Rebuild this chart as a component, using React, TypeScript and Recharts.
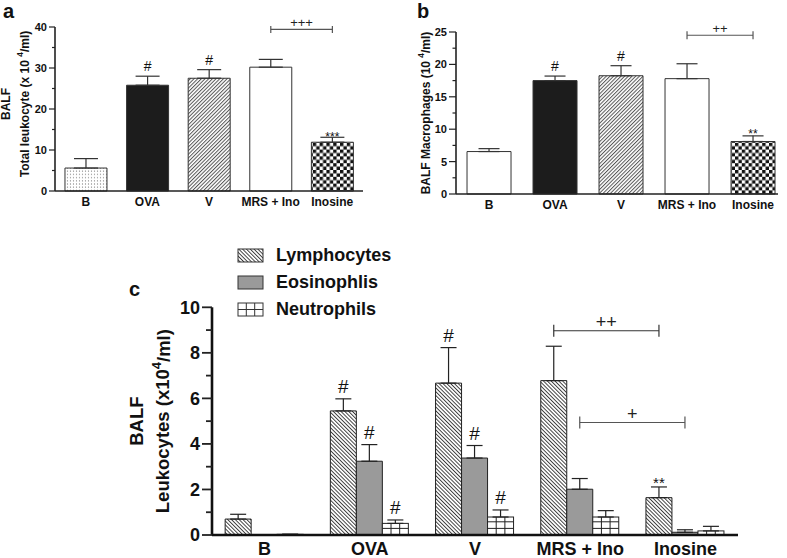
import React from 'react';
import { BarChart, Bar, XAxis, YAxis, ErrorBar, Cell, LabelList, Legend } from 'recharts';

const FONT = '"Liberation Sans", Arial, Helvetica, sans-serif';

// ---------- data ----------
const groups = ['B', 'OVA', 'V', 'MRS + Ino', 'Inosine'];

const totalLeukocyte = [5.6, 25.8, 27.5, 30.2, 11.9];
const totalLeukocyteErr = [2.3, 2.2, 2.1, 1.9, 1.2];
const totalLeukocyteMarks = ['', '#', '#', '', '***'];

const macrophages = [6.55, 17.5, 18.25, 17.8, 8.1];
const macrophagesErr = [0.45, 0.7, 1.55, 2.3, 0.87];
const macrophagesMarks = ['', '#', '#', '', '**'];

const lymphocytes = [0.7, 5.45, 6.67, 6.78, 1.64];
const lymphocytesErr = [0.21, 0.53, 1.56, 1.51, 0.47];
const lymphocytesMarks = ['', '#', '#', '', '**'];

const eosinophils = [0, 3.24, 3.38, 2.01, 0.12];
const eosinophilsErr = [0, 0.73, 0.55, 0.47, 0.11];
const eosinophilsMarks = ['', '#', '#', '', ''];

const neutrophils = [0.03, 0.51, 0.79, 0.79, 0.18];
const neutrophilsErr = [0, 0.15, 0.31, 0.28, 0.2];
const neutrophilsMarks = ['', '#', '#', '', ''];

const ticksA = [0, 5, 10, 15, 20, 25, 30, 35, 40];
const ticksB = [0, 2.5, 5, 7.5, 10, 12.5, 15, 17.5, 20, 22.5, 25];
const ticksC = [0, 1, 2, 3, 4, 5, 6, 7, 8, 9, 10];

type Bracket = { from: number; to: number; y: number; text: string };
const bracketsA: Bracket[] = [{ from: 3, to: 4, y: 39.4, text: '+++' }];
const bracketsB: Bracket[] = [{ from: 3, to: 4, y: 24.5, text: '++' }];
const bracketsLym: Bracket[] = [{ from: 3, to: 4, y: 8.97, text: '++' }];
const bracketsEos: Bracket[] = [{ from: 3, to: 4, y: 4.94, text: '+' }];

// ---------- tables ----------
const rowsA = groups.map((g, i) => ({ idx: i, group: g, value: totalLeukocyte[i], err: [0, totalLeukocyteErr[i]] }));
const rowsB = groups.map((g, i) => ({ idx: i, group: g, value: macrophages[i], err: [0, macrophagesErr[i]] }));
const rowsC = groups.map((g, i) => ({
  idx: i,
  group: g,
  lym: lymphocytes[i], lymErr: [0, lymphocytesErr[i]],
  eos: eosinophils[i], eosErr: [0, eosinophilsErr[i]],
  neu: neutrophils[i], neuErr: [0, neutrophilsErr[i]],
}));

const fillsA = ['url(#dots)', '#1c1c1c', 'url(#hatchFwd)', '#ffffff', 'url(#checker)'];
const fillsB = ['#ffffff', '#1c1c1c', 'url(#hatchFwd)', '#ffffff', 'url(#checker)'];

// label key: "index|value" so that the label knows its own row
const keyed = (field: string) => (r: any) => `${r.idx}|${r[field]}`;

// ---------- helpers ----------
const registry: Record<string, { cx: number; base: number; ppu: number }> = {};

type MarkOpts = {
  id: string;
  errs: number[];
  marks: string[];
  hashSize: number;
  starSize: number;
  hashGap: number;
  starGap: number;
  brackets: Bracket[];
  bracketSize: number;
  bracketHalf: number;
  bracketColor: string;
};

function makeMarks(o: MarkOpts) {
  return (props: any) => {
    const vb = props.viewBox || props;
    const x = Number(vb.x), y = Number(vb.y), w = Number(vb.width), h = Number(vb.height);
    const [is, vs] = String(props.value).split('|');
    const i = Number(is);
    const v = Number(vs);
    if (!(v > 0) || !(h > 0)) return null;
    const ppu = h / v;
    const cx = x + w / 2;
    const base = y + h;
    registry[`${o.id}-${i}`] = { cx, base, ppu };
    const capY = y - o.errs[i] * ppu;
    const out: React.ReactNode[] = [];
    const mark = o.marks[i];
    if (mark) {
      const star = mark.includes('*');
      out.push(
        <text key="m" x={cx} y={star ? capY - o.starGap + o.starSize * 0.43 : capY - o.hashGap} textAnchor="middle"
          fontFamily={FONT} fontSize={star ? o.starSize : o.hashSize} fill="#111">{mark}</text>
      );
    }
    o.brackets.forEach((b, k) => {
      if (b.to !== i) return;
      const from = registry[`${o.id}-${b.from}`];
      if (!from) return;
      const by = base - b.y * ppu;
      const x1 = from.cx, x2 = cx;
      out.push(
        <g key={`b${k}`} stroke={o.bracketColor} strokeWidth={1.2}>
          <line x1={x1} x2={x2} y1={by} y2={by} />
          <line x1={x1} x2={x1} y1={by - o.bracketHalf} y2={by + o.bracketHalf} />
          <line x1={x2} x2={x2} y1={by - o.bracketHalf} y2={by + o.bracketHalf} />
          <text x={(x1 + x2) / 2} y={by - 2.5} textAnchor="middle" stroke="none" fill="#222"
            fontFamily={FONT} fontSize={o.bracketSize}>{b.text}</text>
        </g>
      );
    });
    return <g>{out}</g>;
  };
}

function makeYTick(major: number, majorLen: number, minorLen: number, fontSize: number, gap: number, sw: number) {
  return (props: any) => {
    const { x, y, payload } = props;
    const v = Number(payload.value);
    const isMajor = Math.abs(v / major - Math.round(v / major)) < 1e-6;
    const len = isMajor ? majorLen : minorLen;
    return (
      <g>
        <line x1={x - len} x2={x} y1={y} y2={y} stroke="#222" strokeWidth={sw} />
        {isMajor && (
          <text x={x - len - gap} y={y} dy="0.36em" textAnchor="end" fontFamily={FONT}
            fontWeight="bold" fontSize={fontSize} fill="#111">{v}</text>
        )}
      </g>
    );
  };
}

type LabelLine = { cx: number; parts: React.ReactNode };
function makeYLabel(lines: LabelLine[], fontSize: number, dyCenter: number) {
  return (props: any) => {
    const vb = props.viewBox || {};
    const cy = Number(vb.y) + Number(vb.height) / 2 + dyCenter;
    return (
      <g>
        {lines.map((l, k) => (
          <text key={k} x={Number(vb.x) + l.cx} y={cy} transform={`rotate(-90, ${Number(vb.x) + l.cx}, ${cy})`}
            textAnchor="middle" dominantBaseline="central" fontFamily={FONT} fontWeight="bold"
            fontSize={fontSize} fill="#111">{l.parts}</text>
        ))}
      </g>
    );
  };
}

const sup = (fs: number, pre: string, post: string) => (
  <>
    {pre}
    <tspan dy={-fs * 0.38} fontSize={fs * 0.7}>4</tspan>
    <tspan dy={fs * 0.38}>{post}</tspan>
  </>
);

function GridBar(props: any) {
  const { x, y, width, height } = props;
  if (!(height > 0)) return null;
  const base = y + height;
  const rowH = 6.6;
  const hl: number[] = [];
  for (let yy = base - rowH; yy > y + 1; yy -= rowH) hl.push(yy);
  return (
    <g>
      <rect x={x} y={y} width={width} height={height} fill="#fff" stroke="#222" strokeWidth={1} />
      {[1, 2].map((k) => (
        <line key={`v${k}`} x1={x + (width * k) / 3} x2={x + (width * k) / 3} y1={y} y2={base} stroke="#222" strokeWidth={1} />
      ))}
      {hl.map((yy, k) => (
        <line key={`h${k}`} x1={x} x2={x + width} y1={yy} y2={yy} stroke="#222" strokeWidth={1} />
      ))}
    </g>
  );
}

const seriesC = [
  { key: 'lym', name: 'Lymphocytes', fill: 'url(#hatchBack)' },
  { key: 'eos', name: 'Eosinophlis', fill: '#9a9a9a' },
  { key: 'neu', name: 'Neutrophils', fill: 'grid' },
];

function LegendC(props: any) {
  const payload: any[] = props.payload || [];
  return (
    <div style={{ fontFamily: FONT }}>
      {seriesC.map((s, k) => {
        const p = payload.find((q) => q.dataKey === s.key);
        const label = p ? p.value : s.name;
        return (
          <div key={k} style={{ height: 27, display: 'flex', alignItems: 'center' }}>
            <svg width={27} height={15} style={{ display: 'block' }}>
              {s.fill === 'grid' ? (
                <g>
                  <rect x={1} y={1} width={25} height={13} fill="#fff" stroke="#333" />
                  <line x1={9.3} x2={9.3} y1={1} y2={14} stroke="#333" />
                  <line x1={17.7} x2={17.7} y1={1} y2={14} stroke="#333" />
                  <line x1={1} x2={26} y1={7.5} y2={7.5} stroke="#333" />
                </g>
              ) : (
                <rect x={1} y={1} width={25} height={13} fill={s.fill} stroke="#333" />
              )}
            </svg>
            <span style={{ marginLeft: 12, fontSize: 18, fontWeight: 'bold', color: '#111' }}>{label}</span>
          </div>
        );
      })}
    </div>
  );
}

export default function App() {
  return (
    <div style={{ position: 'absolute', left: 0, top: 0, width: 787, height: 558, background: '#fff', overflow: 'hidden' }}>
      <svg width={0} height={0} style={{ position: 'absolute' }}>
        <defs>
          <pattern id="dots" patternUnits="userSpaceOnUse" width={3} height={3.2}>
            <rect width={3} height={3.2} fill="#fff" />
            <circle cx={1.5} cy={1.6} r={0.6} fill="#777" />
          </pattern>
          <pattern id="hatchFwd" patternUnits="userSpaceOnUse" width={2.6} height={2.6} patternTransform="rotate(45)">
            <rect width={2.6} height={2.6} fill="#fff" />
            <line x1={0.5} x2={0.5} y1={0} y2={2.6} stroke="#555" strokeWidth={1} />
          </pattern>
          <pattern id="hatchBack" patternUnits="userSpaceOnUse" width={2.7} height={2.7} patternTransform="rotate(-45)">
            <rect width={2.7} height={2.7} fill="#fff" />
            <line x1={0.5} x2={0.5} y1={0} y2={2.7} stroke="#222" strokeWidth={0.85} />
          </pattern>
          <pattern id="checker" patternUnits="userSpaceOnUse" width={6.8} height={6.8}>
            <rect width={6.8} height={6.8} fill="#fff" />
            <rect x={0} y={0} width={3.4} height={3.4} fill="#111" />
            <rect x={3.4} y={3.4} width={3.4} height={3.4} fill="#111" />
          </pattern>
        </defs>
      </svg>

      {/* Panel a */}
      <div style={{ position: 'absolute', left: 0, top: 0 }}>
        <BarChart width={390} height={220} data={rowsA} margin={{ top: 27, right: 27, left: 0, bottom: 0 }} barCategoryGap="16.2%">
          <XAxis dataKey="group" interval={0} height={29} tickLine={false} tickSize={0} tickMargin={6}
            axisLine={{ stroke: '#222', strokeWidth: 1.6 }}
            tick={{ fontSize: 12, fontWeight: 'bold', fill: '#111', fontFamily: FONT }} />
          <YAxis width={55} domain={[0, 40]} ticks={ticksA} interval={0} tickLine={false} tickSize={0} tickMargin={0}
            axisLine={{ stroke: '#222', strokeWidth: 1.6 }}
            tick={makeYTick(10, 6, 3, 11, 2, 1.2)}
            label={makeYLabel([
              { cx: 6, parts: 'BALF' },
              { cx: 25, parts: sup(12, 'Total leukocyte (x 10 ', '/ml)') },
            ], 12, -5)} />
          <Bar dataKey="value" isAnimationActive={false} stroke="#333" strokeWidth={1}>
            {rowsA.map((r, i) => <Cell key={r.group} fill={fillsA[i]} />)}
            <ErrorBar dataKey="err" direction="y" width={12} stroke="#333" strokeWidth={1.2} />
            <LabelList dataKey={keyed('value')} content={makeMarks({
              id: 'a', errs: totalLeukocyteErr, marks: totalLeukocyteMarks,
              hashSize: 14, starSize: 12, hashGap: 5, starGap: 1, brackets: bracketsA, bracketSize: 13, bracketHalf: 3.5, bracketColor: '#555',
            })} />
          </Bar>
        </BarChart>
      </div>

      {/* Panel b */}
      <div style={{ position: 'absolute', left: 395, top: 0 }}>
        <BarChart width={392} height={220} data={rowsB} margin={{ top: 32, right: 9, left: 0, bottom: 0 }} barCategoryGap="16.7%">
          <XAxis dataKey="group" interval={0} height={26} tickLine={false} tickSize={0} tickMargin={6}
            padding={{ left: 0, right: -8 }}
            axisLine={{ stroke: '#222', strokeWidth: 1.6 }}
            tick={{ fontSize: 12, fontWeight: 'bold', fill: '#111', fontFamily: FONT }} />
          <YAxis width={61} domain={[0, 25]} ticks={ticksB} interval={0} tickLine={false} tickSize={0} tickMargin={0}
            axisLine={{ stroke: '#222', strokeWidth: 1.6 }}
            tick={makeYTick(5, 7, 3.5, 11, 2, 1.2)}
            label={makeYLabel([
              { cx: 31, parts: sup(12, 'BALF Macrophages (10 ', '/ml)') },
            ], 12, 0)} />
          <Bar dataKey="value" isAnimationActive={false} stroke="#333" strokeWidth={1}>
            {rowsB.map((r, i) => <Cell key={r.group} fill={fillsB[i]} />)}
            <ErrorBar dataKey="err" direction="y" width={10.5} stroke="#333" strokeWidth={1.2} />
            <LabelList dataKey={keyed('value')} content={makeMarks({
              id: 'b', errs: macrophagesErr, marks: macrophagesMarks,
              hashSize: 14, starSize: 12, hashGap: 5, starGap: 3.5, brackets: bracketsB, bracketSize: 13, bracketHalf: 4, bracketColor: '#555',
            })} />
          </Bar>
        </BarChart>
      </div>

      {/* Panel c */}
      <div style={{ position: 'absolute', left: 0, top: 220 }}>
        <BarChart width={787} height={338} data={rowsC} margin={{ top: 87.3, right: 49, left: 0, bottom: 0 }}
          barCategoryGap="12.5%" barGap={0}>
          <XAxis dataKey="group" interval={0} height={23} tickLine={false} tickSize={0} tickMargin={7}
            axisLine={{ stroke: '#111', strokeWidth: 2.6 }}
            tick={{ fontSize: 18, fontWeight: 'bold', fill: '#111', fontFamily: FONT }} />
          <YAxis width={212} domain={[0, 10]} ticks={ticksC} interval={0} tickLine={false} tickSize={0} tickMargin={0}
            axisLine={{ stroke: '#111', strokeWidth: 2.6 }}
            tick={makeYTick(2, 10, 6, 18, 2, 1.8)}
            label={makeYLabel([
              { cx: 137, parts: 'BALF' },
              { cx: 163, parts: sup(18.5, 'Leukocytes (x10', '/ml)') },
            ], 18.5, 0)} />
          <Legend layout="vertical" verticalAlign="middle" align="center" content={LegendC}
            wrapperStyle={{ left: 237, top: 22, width: 200, height: 81 }} />
          <Bar dataKey="lym" name="Lymphocytes" fill="url(#hatchBack)" stroke="#222" strokeWidth={1} isAnimationActive={false}>
            <ErrorBar dataKey="lymErr" direction="y" width={8} stroke="#222" strokeWidth={1.2} />
            <LabelList dataKey={keyed('lym')} content={makeMarks({
              id: 'lym', errs: lymphocytesErr, marks: lymphocytesMarks,
              hashSize: 19, starSize: 15, hashGap: 6, starGap: 5, brackets: bracketsLym, bracketSize: 18, bracketHalf: 6, bracketColor: '#333',
            })} />
          </Bar>
          <Bar dataKey="eos" name="Eosinophlis" fill="#9a9a9a" stroke="#222" strokeWidth={1} isAnimationActive={false}>
            <ErrorBar dataKey="eosErr" direction="y" width={8} stroke="#222" strokeWidth={1.2} />
            <LabelList dataKey={keyed('eos')} content={makeMarks({
              id: 'eos', errs: eosinophilsErr, marks: eosinophilsMarks,
              hashSize: 19, starSize: 15, hashGap: 6, starGap: 5, brackets: bracketsEos, bracketSize: 18, bracketHalf: 6, bracketColor: '#555',
            })} />
          </Bar>
          <Bar dataKey="neu" name="Neutrophils" fill="#ffffff" stroke="#222" shape={GridBar} isAnimationActive={false}>
            <ErrorBar dataKey="neuErr" direction="y" width={8} stroke="#222" strokeWidth={1.2} />
            <LabelList dataKey={keyed('neu')} content={makeMarks({
              id: 'neu', errs: neutrophilsErr, marks: neutrophilsMarks,
              hashSize: 19, starSize: 15, hashGap: 6, starGap: 5, brackets: [], bracketSize: 18, bracketHalf: 6, bracketColor: '#333',
            })} />
          </Bar>
        </BarChart>
      </div>

      <svg width={787} height={558} style={{ position: 'absolute', left: 0, top: 0, pointerEvents: 'none' }}>
        <text x={3} y={18} fontFamily={FONT} fontWeight="bold" fontSize={20} fill="#111">a</text>
        <text x={417} y={18} fontFamily={FONT} fontWeight="bold" fontSize={20} fill="#111">b</text>
        <text x={129} y={296} fontFamily={FONT} fontWeight="bold" fontSize={20} fill="#111">c</text>
      </svg>
    </div>
  );
}
